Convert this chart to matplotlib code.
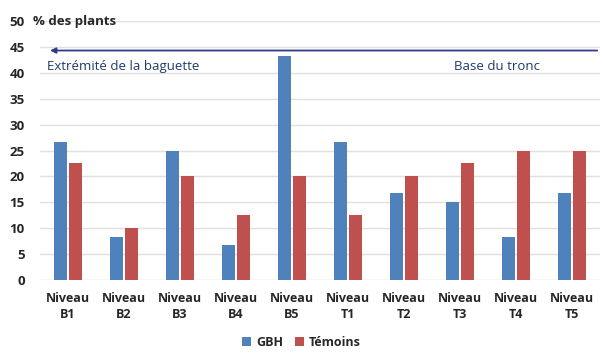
import matplotlib
matplotlib.use("Agg")
import matplotlib.pyplot as plt
import numpy as np

categories = ["Niveau\nB1", "Niveau\nB2", "Niveau\nB3", "Niveau\nB4", "Niveau\nB5",
              "Niveau\nT1", "Niveau\nT2", "Niveau\nT3", "Niveau\nT4", "Niveau\nT5"]
gbh = [26.7, 8.3, 25.0, 6.7, 43.3, 26.7, 16.7, 15.0, 8.3, 16.7]
temoins = [22.5, 10.0, 20.0, 12.5, 20.0, 12.5, 20.0, 22.5, 25.0, 25.0]
yticks = [0, 5, 10, 15, 20, 25, 30, 35, 40, 45, 50]

plt.rcParams['font.family'] = ['Open Sans', 'DejaVu Sans']

fig = plt.figure(figsize=(6.03, 3.6), dpi=100)
ax = fig.add_axes([40/603, 1-280/360, 560/603, (280-21)/360])

x = np.arange(len(categories))
w = 0.23
ax.bar(x - 0.14, gbh, width=w, color="#4f81bd", label="GBH", zorder=3)
ax.bar(x + 0.14, temoins, width=w, color="#c0504d", label="Témoins", zorder=3)

ax.set_xlim(-0.5, 9.5)
ax.set_ylim(0, 50)
ax.set_yticks(yticks)
ax.set_yticklabels([str(t) for t in yticks], fontsize=9.5, fontweight="bold", color="#262626")
ax.set_xticks(x)
ax.set_xticklabels(categories, fontsize=9, fontweight="bold", color="#262626", linespacing=1.3)
ax.tick_params(length=0, pad=11)
ax.tick_params(axis='x', pad=9)
ax.grid(axis='y', color="#e0e0e0", linewidth=1, zorder=0)
for s in ax.spines.values():
    s.set_visible(False)

ax.text(-0.013, 50, "% des plants", transform=ax.get_yaxis_transform(), ha="left", va="center",
        fontsize=9.5, fontweight="bold", color="#262626")

ax.annotate("", xy=(-0.37, 44.3), xytext=(9.5, 44.3),
            arrowprops=dict(arrowstyle="-|>", color="#2e3a87", lw=1.3, mutation_scale=8),
            zorder=4)
ax.text(-0.37, 41.3, "Extrémité de la baguette", fontsize=9.5, color="#1f3a6e", ha="left", va="center")
ax.text(6.9, 41.3, "Base du tronc", fontsize=9.5, color="#1f3a6e", ha="left", va="center")

fig.legend(loc="lower center", bbox_to_anchor=(0.5, 0.0), ncol=2, frameon=False,
           prop={"size": 9, "weight": "bold"}, handlelength=0.7, handleheight=0.7,
           columnspacing=1.0, handletextpad=0.4, labelcolor="#262626")

fig.savefig("out.png", dpi=100)
